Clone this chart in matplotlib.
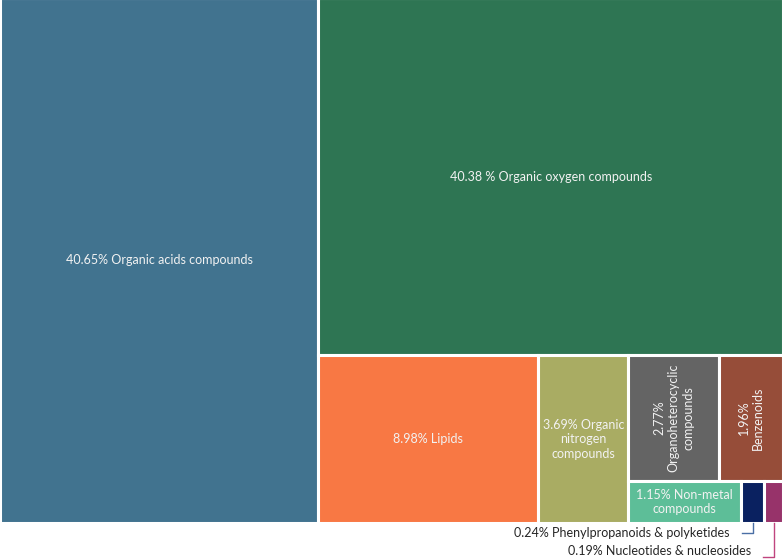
import matplotlib
matplotlib.use("Agg")
import matplotlib.pyplot as plt
from matplotlib.patches import Rectangle

plt.rcParams['font.family'] = ['Lato', 'DejaVu Sans']

# values (%)
categories = ['Organic acids compounds', 'Organic oxygen compounds', 'Lipids',
              'Organic nitrogen compounds', 'Organoheterocyclic compounds',
              'Benzenoids', 'Non-metal compounds',
              'Phenylpropanoids & polyketides', 'Nucleotides & nucleosides']
values = [40.65, 40.38, 8.98, 3.69, 2.77, 1.96, 1.15, 0.24, 0.19]
labels = ['40.65% Organic acids compounds', '40.38 % Organic oxygen compounds',
          '8.98% Lipids', '3.69% Organic\nnitrogen\ncompounds',
          '2.77%\nOrganoheterocyclic\ncompounds', '1.96%\nBenzenoids',
          '1.15% Non-metal\ncompounds', '0.24% Phenylpropanoids & polyketides',
          '0.19% Nucleotides & nucleosides']
colors = ['#41738F', '#2E7553', '#F87844', '#A9AC63', '#646464',
          '#964D39', '#5DBE98', '#0A2160', '#97336A']

# nesting of the layout: (direction, children) ; ints index into values
layout = ('h', [0, ('v', [1, ('h', [2, 3, ('v', [('h', [4, 5]), ('h', [6, 7, 8])])])])])


def total(node):
    if isinstance(node, int):
        return values[node]
    return sum(total(c) for c in node[1])


def place(node, x, y, w, h, out):
    if isinstance(node, int):
        out[node] = (x, y, w, h)
        return
    d, kids = node
    s = total(node)
    pos = 0
    for k in kids:
        f = total(k) / s
        if d == 'h':
            place(k, x + pos, y, w * f, h, out)
            pos += w * f
        else:
            place(k, x, y + pos, w, h * f, out)
            pos += h * f


rects = {}
place(layout, 0, -2, 783, 525, rects)

fig = plt.figure(figsize=(7.83, 5.6), dpi=100)
ax = fig.add_axes([0, 0, 1, 1])
ax.set_xlim(0, 783)
ax.set_ylim(560, 0)
ax.axis('off')

txt = '#F2F2F2'
for i in range(len(values)):
    x, y, w, h = rects[i]
    ax.add_patch(Rectangle((x, y), w, h, facecolor=colors[i], edgecolor='white', linewidth=2.2))
    cx, cy = x + w / 2, y + h / 2
    if i in (4, 5):
        ax.text(cx, cy, labels[i], color=txt, fontsize=9, rotation=90,
                ha='center', va='center', multialignment='center', linespacing=1.25)
    elif i < 7:
        ax.text(cx, cy, labels[i], color=txt, fontsize=9,
                ha='center', va='center', multialignment='center', linespacing=1.25)

# small boxes get outside labels with leader lines
line_cols = {7: '#4A6FA5', 8: '#C0457F'}
line_y = {7: 533, 8: 557}
text_y = {7: 533, 8: 551}
for i in (7, 8):
    x, y, w, h = rects[i]
    cx = x + w / 2
    ly = line_y[i]
    ax.plot([cx, cx, cx - 11], [y + h, ly, ly], color=line_cols[i], lw=1)
    ax.text(cx - 23, text_y[i], labels[i], color='#262626', fontsize=9, ha='right', va='center')

fig.savefig('out.png', dpi=100)
